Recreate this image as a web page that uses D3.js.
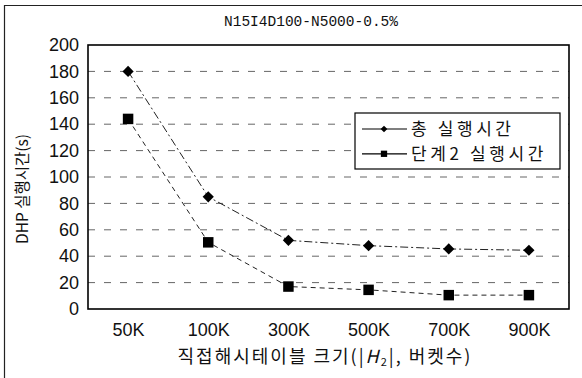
<!DOCTYPE html>
<html>
<head>
<meta charset="utf-8">
<script src="https://cdn.jsdelivr.net/npm/d3@7"></script>
<style>
  body { margin: 0; background: #fff; }
  svg { display: block; }
</style>
</head>
<body>
<div id="chart"></div>
<script>
// chart data
var categories = ["50K", "100K", "300K", "500K", "700K", "900K"];
var totalTime = [180, 85, 52, 48, 45.5, 44.5];
var stage2Time = [144, 50.5, 17, 14.5, 10.5, 10.5];
var yTicks = [0, 20, 40, 60, 80, 100, 120, 140, 160, 180, 200];
var seriesNames = ["총 실행시간", "단계2 실행시간"];

var W = 582, H = 378;
var margin = { top: 45, right: 13, bottom: 69, left: 88 };
var width = W - margin.left - margin.right;
var height = H - margin.top - margin.bottom;

var svg = d3.select("#chart").append("svg")
  .attr("width", W)
  .attr("height", H);

// outer frame of the scan
svg.append("path")
  .attr("d", "M4.5," + H + "V5.5H" + W)
  .attr("fill", "none")
  .attr("stroke", "#222")
  .attr("stroke-width", 1.2);

svg.append("text")
  .attr("x", 311)
  .attr("y", 26)
  .attr("text-anchor", "middle")
  .style("font-family", "'Liberation Mono', 'DejaVu Sans Mono', monospace")
  .style("font-size", "14.5px")
  .attr("fill", "#111")
  .text("N15I4D100-N5000-0.5%");

var g = svg.append("g")
  .attr("transform", "translate(" + margin.left + "," + margin.top + ")");

var x = d3.scalePoint().domain(categories).range([0, width]).padding(0.5);
var y = d3.scaleLinear().domain([0, 200]).range([height, 0]);

// dashed horizontal grid
g.selectAll(".grid")
  .data(yTicks.filter(function(d) { return d > 0 && d < 200; }))
  .enter().append("line")
  .attr("class", "grid")
  .attr("x1", 0).attr("x2", width)
  .attr("y1", function(d) { return y(d); })
  .attr("y2", function(d) { return y(d); })
  .attr("stroke", "#666")
  .attr("stroke-width", 1)
  .attr("stroke-dasharray", "7,9");

// plot frame
g.append("rect")
  .attr("width", width)
  .attr("height", height)
  .attr("fill", "none")
  .attr("stroke", "#000")
  .attr("stroke-width", 1.6);

// y axis
var yAxis = g.append("g")
  .call(d3.axisLeft(y).tickValues(yTicks).tickSize(0).tickPadding(9));
yAxis.select(".domain").remove();
yAxis.selectAll("text")
  .style("font-family", "'Liberation Sans', Arial, sans-serif")
  .style("font-size", "18px")
  .attr("fill", "#111");

// x axis
var xAxis = g.append("g")
  .attr("transform", "translate(0," + height + ")")
  .call(d3.axisBottom(x).tickSize(0).tickPadding(14));
xAxis.select(".domain").remove();
xAxis.selectAll("text")
  .style("font-family", "'Liberation Sans', Arial, sans-serif")
  .style("font-size", "18px")
  .attr("fill", "#111");

// axis titles
svg.append("text")
  .attr("transform", "translate(28," + (margin.top + height / 2 + 12) + ") rotate(-90)")
  .attr("text-anchor", "middle")
  .style("font-family", "'Noto Sans CJK KR', sans-serif")
  .style("font-size", "15.5px")
  .attr("fill", "#111")
  .text("DHP 실행시간(s)");

var xt = svg.append("text")
  .attr("x", 325)
  .attr("y", 363)
  .attr("text-anchor", "middle")
  .style("font-family", "'Noto Sans CJK KR', sans-serif")
  .style("font-size", "18px")
  .style("letter-spacing", "2px")
  .attr("fill", "#111");
xt.append("tspan").text("직접해시테이블 크기(|");
xt.append("tspan").style("font-style", "italic").text("H");
xt.append("tspan").attr("dy", 3).style("font-size", "11px").text("2");
xt.append("tspan").attr("dy", -3).text("|, 버켓수)");

// lines
var line = d3.line()
  .x(function(d, i) { return x(categories[i]); })
  .y(function(d) { return y(d); });

g.append("path")
  .datum(totalTime)
  .attr("d", line)
  .attr("fill", "none")
  .attr("stroke", "#222")
  .attr("stroke-width", 1)
  .attr("stroke-dasharray", "8,3,2,3");

g.append("path")
  .datum(stage2Time)
  .attr("d", line)
  .attr("fill", "none")
  .attr("stroke", "#222")
  .attr("stroke-width", 1)
  .attr("stroke-dasharray", "5,4");

var diamond = d3.symbol().type(d3.symbolDiamond2).size(80);
var square = d3.symbol().type(d3.symbolSquare).size(110);

g.selectAll(".dia")
  .data(totalTime)
  .enter().append("path")
  .attr("class", "dia")
  .attr("d", diamond)
  .attr("transform", function(d, i) { return "translate(" + x(categories[i]) + "," + y(d) + ")"; })
  .attr("fill", "#000");

g.selectAll(".sq")
  .data(stage2Time)
  .enter().append("path")
  .attr("class", "sq")
  .attr("d", square)
  .attr("transform", function(d, i) { return "translate(" + x(categories[i]) + "," + y(d) + ")"; })
  .attr("fill", "#000");

// legend
var lg = svg.append("g").attr("transform", "translate(355,113)");
lg.append("rect")
  .attr("width", 205)
  .attr("height", 56)
  .attr("fill", "#fff")
  .attr("stroke", "#000")
  .attr("stroke-width", 1.2);

var marks = [diamond, square];
seriesNames.forEach(function(name, i) {
  var yy = 16 + i * 24.8;
  lg.append("line")
    .attr("x1", 7).attr("x2", 52)
    .attr("y1", yy).attr("y2", yy)
    .attr("stroke", "#000")
    .attr("stroke-width", 1.2);
  lg.append("path")
    .attr("d", marks[i])
    .attr("transform", "translate(29," + yy + ") scale(0.6)")
    .attr("fill", "#000");
  lg.append("text")
    .attr("x", 56)
    .attr("y", yy + 6)
    .style("font-family", "'Noto Sans CJK KR', sans-serif")
    .style("font-size", "17px")
    .style("letter-spacing", "3.6px")
    .attr("fill", "#111")
    .text(name);
});
</script>
</body>
</html>
